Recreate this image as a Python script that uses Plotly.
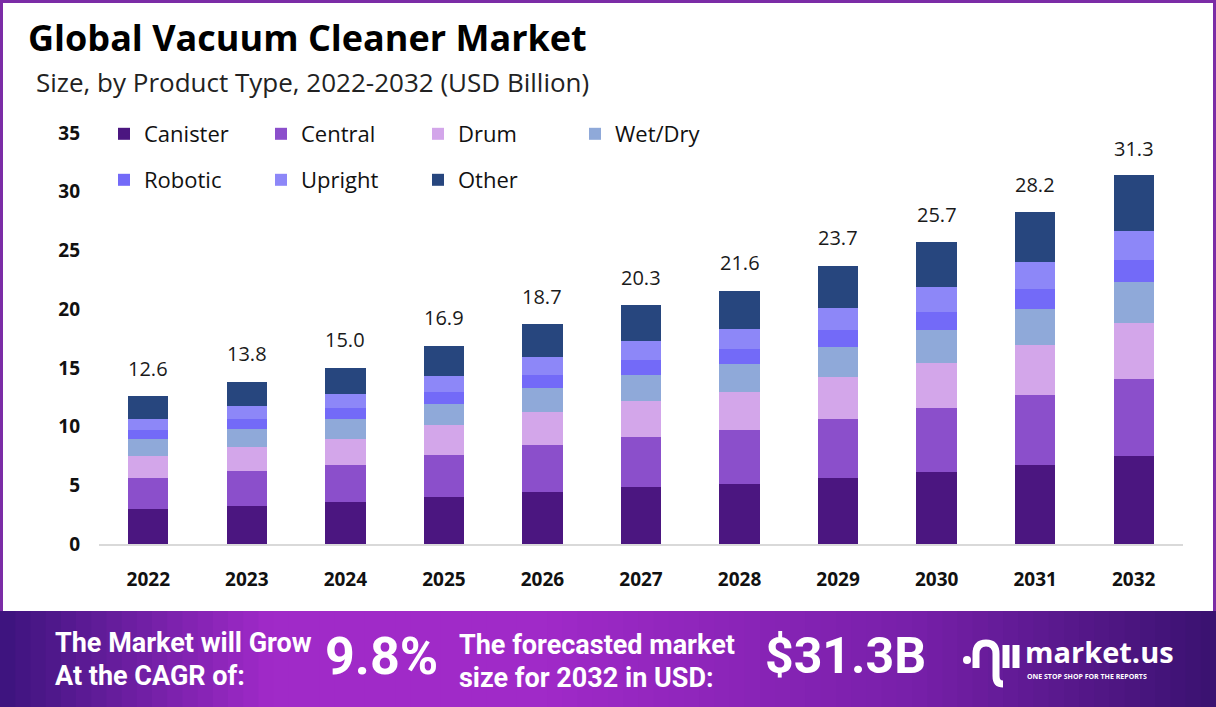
import plotly.graph_objects as go

years = ["2022", "2023", "2024", "2025", "2026", "2027", "2028", "2029", "2030", "2031", "2032"]
canister = [2.98, 3.24, 3.58, 4.00, 4.43, 4.86, 5.11, 5.62, 6.13, 6.73, 7.50]
central  = [2.64, 2.98, 3.15, 3.58, 4.00, 4.26, 4.60, 5.03, 5.45, 5.96, 6.56]
drum     = [1.87, 2.04, 2.21, 2.56, 2.81, 3.07, 3.24, 3.58, 3.83, 4.26, 4.77]
wet_dry  = [1.45, 1.53, 1.70, 1.79, 2.04, 2.21, 2.39, 2.56, 2.81, 3.07, 3.49]
robotic  = [0.77, 0.85, 0.94, 1.02, 1.11, 1.28, 1.28, 1.45, 1.53, 1.70, 1.87]
upright  = [0.94, 1.11, 1.19, 1.36, 1.53, 1.62, 1.70, 1.87, 2.13, 2.30, 2.47]
other    = [1.96, 2.04, 2.19, 2.56, 2.81, 3.07, 3.24, 3.58, 3.83, 4.26, 4.77]
totals   = [12.6, 13.8, 15.0, 16.9, 18.7, 20.3, 21.6, 23.7, 25.7, 28.2, 31.3]
y_ticks  = [0, 5, 10, 15, 20, 25, 30, 35]

series = [
    ("Canister", canister, "#4B1680", "legend"),
    ("Central", central, "#8B4FCB", "legend"),
    ("Drum", drum, "#D3A6EA", "legend"),
    ("Wet/Dry", wet_dry, "#8FA9D9", "legend"),
    ("Robotic", robotic, "#736AF8", "legend2"),
    ("Upright", upright, "#8D87F8", "legend2"),
    ("Other", other, "#27467E", "legend2"),
]

W, H = 1216, 707
L, R, T, B = 99, 1183, 133, 544


def px(x):
    return (x - L) / (R - L)


def py(y):
    return (B - y) / (B - T)


fig = go.Figure()
for name, vals, col, lg in series:
    fig.add_trace(go.Bar(
        x=years, y=vals, name=name, marker=dict(color=col, line=dict(width=0)),
        legend=lg, hoverinfo="skip",
    ))

shapes = []
# bottom banner gradient
stops = [(0.0, (60, 20, 125)), (0.22, (160, 42, 200)), (0.45, (160, 42, 200)),
         (0.75, (120, 32, 170)), (1.0, (58, 18, 112))]


def grad(t):
    for i in range(len(stops) - 1):
        a, ca = stops[i]
        b, cb = stops[i + 1]
        if a <= t <= b:
            f = (t - a) / (b - a)
            return "rgb(%d,%d,%d)" % tuple(int(ca[k] + (cb[k] - ca[k]) * f) for k in range(3))
    return "rgb(58,18,112)"


N = 80
for i in range(N):
    x0 = W * i / N
    x1 = W * (i + 1) / N + 1
    shapes.append(dict(type="rect", xref="paper", yref="paper", x0=px(x0), x1=px(x1),
                       y0=py(H + 1), y1=py(611), fillcolor=grad((i + 0.5) / N),
                       line=dict(width=0), layer="above"))
# border
bc = "#7B2CA6"
shapes.append(dict(type="rect", xref="paper", yref="paper", x0=px(0), x1=px(3), y0=py(611), y1=py(0),
                   fillcolor=bc, line=dict(width=0)))
shapes.append(dict(type="rect", xref="paper", yref="paper", x0=px(1213), x1=px(1216), y0=py(611), y1=py(0),
                   fillcolor=bc, line=dict(width=0)))
shapes.append(dict(type="rect", xref="paper", yref="paper", x0=px(0), x1=px(1216), y0=py(3), y1=py(0),
                   fillcolor=bc, line=dict(width=0)))

# logo icon (approximate)
shapes.append(dict(type="circle", xref="paper", yref="paper", x0=px(963), x1=px(971), y0=py(664), y1=py(656),
                   fillcolor="white", line=dict(width=0), layer="above"))
shapes.append(dict(type="path", xref="paper", yref="paper",
                   path=f"M {px(976)},{py(668)} L {px(976)},{py(654)} Q {px(976)},{py(643)} {px(986)},{py(643)} "
                        f"Q {px(996)},{py(643)} {px(996)},{py(654)} L {px(996)},{py(676)} Q {px(996)},{py(684)} {px(1003)},{py(684)}",
                   line=dict(color="white", width=7), layer="above"))
shapes.append(dict(type="line", xref="paper", yref="paper", x0=px(1006), x1=px(1006), y0=py(668), y1=py(645),
                   line=dict(color="white", width=7), layer="above"))
shapes.append(dict(type="line", xref="paper", yref="paper", x0=px(1016), x1=px(1016), y0=py(668), y1=py(645),
                   line=dict(color="white", width=7), layer="above"))

annotations = [
    dict(text="<b>Global Vacuum Cleaner Market</b>", x=px(26), y=py(38), xanchor="left", yanchor="middle",
         font=dict(family="Open Sans", size=36, color="#000000")),
    dict(text="Size, by Product Type, 2022-2032 (USD Billion)", x=px(34), y=py(82), xanchor="left",
         yanchor="middle", font=dict(family="Open Sans", size=26, color="#222222")),
    dict(text="<b>The Market will Grow</b>", x=px(53), y=py(643), xanchor="left", yanchor="middle",
         font=dict(family="Roboto", size=27, color="white")),
    dict(text="<b>At the CAGR of:</b>", x=px(53), y=py(676), xanchor="left", yanchor="middle",
         font=dict(family="Roboto", size=27, color="white")),
    dict(text="<b>9.8%</b>", x=px(323), y=py(656), xanchor="left", yanchor="middle",
         font=dict(family="Roboto", size=52, color="white")),
    dict(text="<b>The forecasted market</b>", x=px(457), y=py(645), xanchor="left", yanchor="middle",
         font=dict(family="Roboto", size=27, color="white")),
    dict(text="<b>size for 2032 in USD:</b>", x=px(457), y=py(678), xanchor="left", yanchor="middle",
         font=dict(family="Roboto", size=27, color="white")),
    dict(text="<b>$31.3B</b>", x=px(763), y=py(656), xanchor="left", yanchor="middle",
         font=dict(family="Roboto", size=50, color="white")),
    dict(text="<b>market.us</b>", x=px(1023), y=py(651), xanchor="left", yanchor="middle",
         font=dict(family="Open Sans", size=29, color="white")),
    dict(text="<b>ONE STOP SHOP FOR THE REPORTS</b>", x=px(1025), y=py(676), xanchor="left", yanchor="middle",
         font=dict(family="Open Sans", size=7, color="white")),
]
for a in annotations:
    a.update(xref="paper", yref="paper", showarrow=False)

# total value labels above bars (category index on the x axis, value on the y axis)
for i, tot in enumerate(totals):
    annotations.append(dict(x=i, y=tot, xref="x", yref="y", text=f"{tot:.1f}", showarrow=False,
                            yshift=28, yanchor="middle",
                            font=dict(family="Open Sans", size=20, color="#1a1a1a")))

legend_common = dict(
    orientation="h", xanchor="left", yanchor="middle", bgcolor="rgba(0,0,0,0)",
    font=dict(family="Open Sans", size=22, color="#111111"),
    entrywidth=112, entrywidthmode="pixels", traceorder="normal", itemclick=False,
)

fig.update_layout(
    width=W, height=H, barmode="stack", bargap=0.59,
    margin=dict(l=L, r=W - R, t=T, b=H - B, pad=0),
    paper_bgcolor="white", plot_bgcolor="white",
    showlegend=True,
    legend=dict(x=px(104), y=py(134), **legend_common),
    legend2=dict(x=px(104), y=py(180), **legend_common),
    xaxis=dict(type="category", showgrid=False, showline=True, linecolor="#D9D9D9", linewidth=2, ticks="",
               tickfont=dict(family="Open Sans", size=19, color="#111111", weight="bold"),
               ticklabelstandoff=17, fixedrange=True),
    yaxis=dict(range=[0, 35], tickvals=y_ticks, showgrid=False, zeroline=False, showline=False,
               tickfont=dict(family="Open Sans", size=19, color="#111111", weight="bold"),
               ticklabelstandoff=18, fixedrange=True),
    shapes=shapes, annotations=annotations,
)

fig.write_html("out.html", config={"displayModeBar": False},
               post_script="document.body.style.margin='0';")
